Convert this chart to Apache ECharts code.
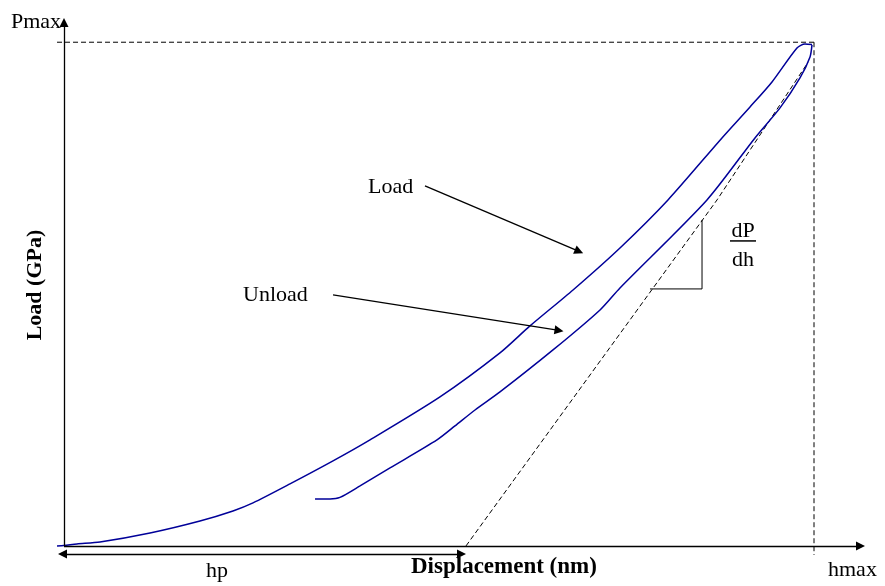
<!DOCTYPE html>
<html><head><meta charset="utf-8">
<script src="https://cdn.jsdelivr.net/npm/echarts@6/dist/echarts.min.js"></script>
<style>html,body{margin:0;padding:0;background:#fff}#c{width:885px;height:586px}</style>
</head><body><div id="c"></div>
<script>
// ---- data (displacement as % of hmax, load as % of Pmax) ----
const loadX = [-0.93, 0, 1.73, 4.8, 11.47, 18.13, 22.53, 25.2, 30.13, 35.87, 40.8, 50.13, 58.13, 62.13, 67.87, 74.13, 80.53, 87.73, 91.47, 94.4, 97.73, 98.8, 99.73];
const loadY = [0, 0.1, 0.4, 0.79, 2.58, 4.96, 6.95, 8.54, 12.31, 16.88, 21.05, 29.58, 38.32, 43.68, 50.82, 59.16, 68.69, 81.0, 87.15, 92.12, 98.87, 99.66, 99.56];
const unloadX = [33.47, 35.47, 36.8, 39.47, 43.47, 49.73, 52.13, 54.8, 58.13, 65.2, 71.47, 74.13, 85.73, 92.13, 95.47, 98.13, 99.47, 99.73];
const unloadY = [9.33, 9.33, 9.63, 11.91, 15.49, 21.04, 23.82, 26.99, 30.57, 38.91, 46.85, 51.22, 68.69, 81.0, 86.96, 92.91, 97.08, 99.46];
const tangentX = [53.6, 87.07, 99.2];
const tangentY = [0, 68.69, 96.0];
const hp = 53.6, hmax = 100, Pmax = 100;
const slopeTriX = [78.13, 85.07, 85.07];
const slopeTriY = [51.02, 51.02, 64.72];
const xTitle = 'Displacement (nm)', yTitle = 'Load (GPa)';

const zip = (a, b) => a.map((v, i) => [v, b[i]]);
const serif = '"Liberation Serif", "Times New Roman", serif';
const curveColor = '#000099';

const chart = echarts.init(document.getElementById('c'));
const plainLine = (data, style) => ({
  type: 'line', data, showSymbol: false, symbol: 'none', clip: false, silent: true,
  lineStyle: style, z: 1
});
const arrowLine = (p0, p1, both) => [
  { coord: p0, symbol: both ? 'triangle' : 'none', symbolSize: 9 },
  { coord: p1, symbol: 'triangle', symbolSize: 9 }
];
const dash = { color: '#000', width: 1, type: [5, 3] };

chart.setOption({
  animation: false,
  backgroundColor: '#fff',
  grid: { left: 55, right: 11, top: 12, bottom: 30 },
  xAxis: { type: 'value', min: -1.2, max: 108, axisLine: { show: false }, axisTick: { show: false }, axisLabel: { show: false }, splitLine: { show: false } },
  yAxis: { type: 'value', min: -2, max: 106, axisLine: { show: false }, axisTick: { show: false }, axisLabel: { show: false }, splitLine: { show: false } },
  series: [
    Object.assign(plainLine(zip(loadX, loadY), { color: curveColor, width: 1.5 }), { smooth: 0.25, z: 3 }),
    Object.assign(plainLine(zip(unloadX, unloadY), { color: curveColor, width: 1.5 }), { smooth: 0.25, z: 3 }),
    plainLine(zip(tangentX, tangentY), dash),
    plainLine([[-0.93, Pmax], [hmax, Pmax]], dash),
    plainLine([[hmax, Pmax], [hmax, -1.8]], dash),
    plainLine(zip(slopeTriX, slopeTriY), { color: '#000', width: 1 }),
    plainLine([[88.8, 60.55], [92.27, 60.55]], { color: '#000', width: 1.5 }),
    {
      type: 'line', data: [], silent: true,
      markLine: {
        silent: true, animation: false,
        label: { show: false },
        lineStyle: { color: '#000', width: 1.3, type: 'solid' },
        emphasis: { disabled: true },
        data: [
          arrowLine([0, 0], [106.2, 0]),
          arrowLine([0, 0], [0, 103.9]),
          arrowLine([-0.2, -1.59], [53.0, -1.59], true),
          arrowLine([48.13, 71.47], [68.67, 58.47]),
          arrowLine([35.87, 49.83], [66.0, 42.78])
        ]
      }
    }
  ],
  graphic: [
    { type: 'text', x: 11, y: 22, style: { text: 'Pmax', font: '22px ' + serif, fill: '#000', align: 'left', verticalAlign: 'middle' } },
    { type: 'text', x: 368, y: 187, style: { text: 'Load', font: '22px ' + serif, fill: '#000', align: 'left', verticalAlign: 'middle' } },
    { type: 'text', x: 243, y: 295, style: { text: 'Unload', font: '22px ' + serif, fill: '#000', align: 'left', verticalAlign: 'middle' } },
    { type: 'text', x: 217, y: 571, style: { text: 'hp', font: '22px ' + serif, fill: '#000', align: 'center', verticalAlign: 'middle' } },
    { type: 'text', x: 411, y: 567, style: { text: xTitle, font: 'bold 23px ' + serif, fill: '#000', align: 'left', verticalAlign: 'middle' } },
    { type: 'text', x: 828, y: 570, style: { text: 'hmax', font: '22px ' + serif, fill: '#000', align: 'left', verticalAlign: 'middle' } },
    { type: 'text', x: 743, y: 231, style: { text: 'dP', font: '22px ' + serif, fill: '#000', align: 'center', verticalAlign: 'middle' } },
    { type: 'text', x: 743, y: 260, style: { text: 'dh', font: '22px ' + serif, fill: '#000', align: 'center', verticalAlign: 'middle' } },
    { type: 'text', x: 35, y: 285, rotation: Math.PI / 2, style: { text: yTitle, font: 'bold 22px ' + serif, fill: '#000', align: 'center', verticalAlign: 'middle' } }
  ]
});
</script></body></html>
